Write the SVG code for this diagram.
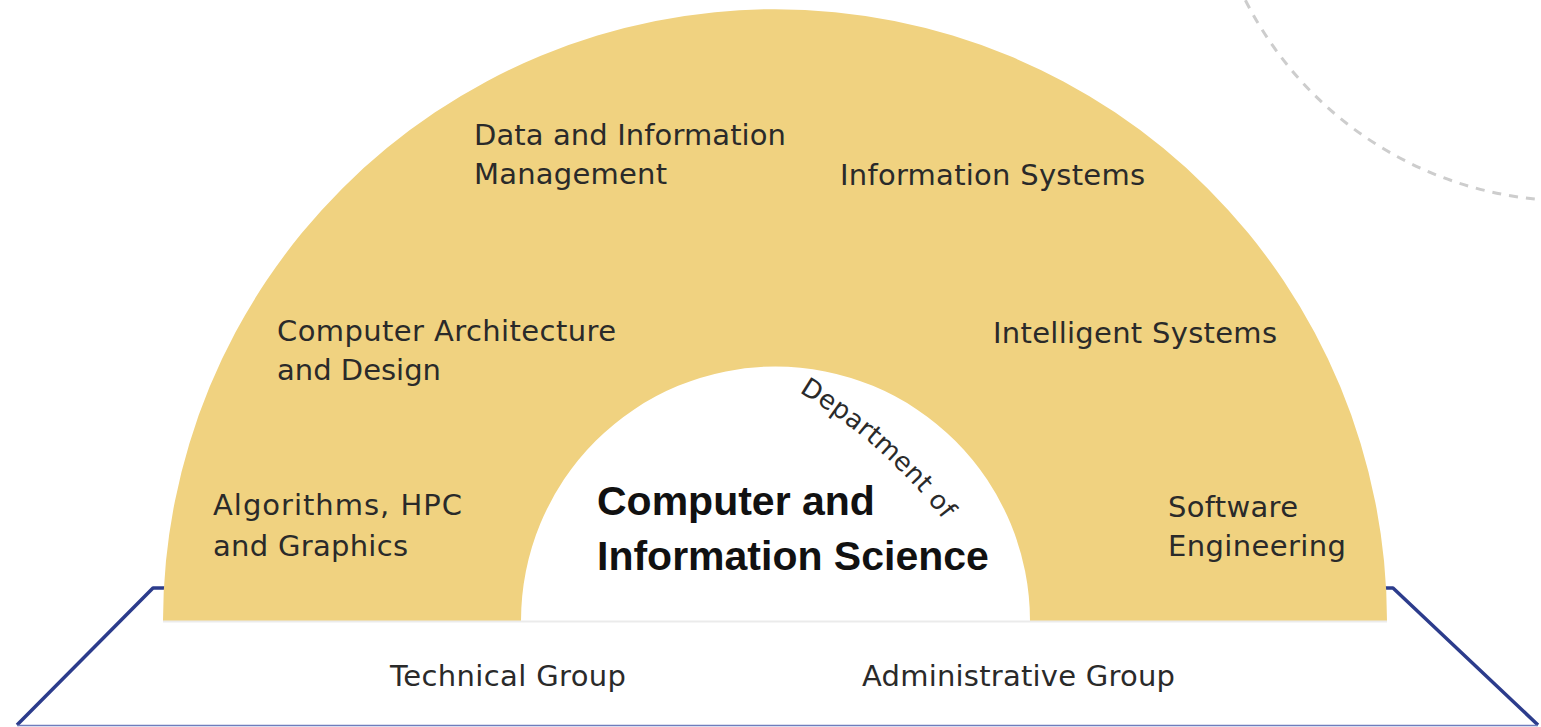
<svg xmlns="http://www.w3.org/2000/svg" width="1541" height="727" viewBox="0 0 1541 727">
  <style>
    .lbl { font-family: "DejaVu Sans", "Liberation Sans", sans-serif; font-size: 29px; fill: #2a2a2a; }
    .ctr { font-family: "Liberation Sans", "DejaVu Sans", sans-serif; font-size: 41px; font-weight: bold; fill: #111111; }
    .dept { font-family: "DejaVu Sans", "Liberation Sans", sans-serif; font-size: 26px; fill: #2a2a2a; }
    .navy { fill: none; stroke: #2c3c8c; stroke-width: 3.5; stroke-linejoin: round; }
  </style>
  <defs>
    <path id="deptPath" d="M 799 392 A 520 520 0 0 1 958 540"/>
  </defs>
  <rect width="1541" height="727" fill="#ffffff"/>
  <g id="dashed-circle">
    <circle cx="1572" cy="-165" r="366" fill="none" stroke="#cdcdcd" stroke-width="3" stroke-dasharray="9 8"/>
  </g>
  <g id="base-platform">
    <path class="navy" d="M 17 725 L 153 588 L 166 588"/>
    <path class="navy" d="M 1384 588 L 1393 588 L 1538 725"/>
    <line x1="17" y1="725.5" x2="1538" y2="725.5" stroke="#6f7dbd" stroke-width="1.5"/>
    <text class="lbl" x="390" y="686" textLength="236">Technical Group</text>
    <text class="lbl" x="862" y="686" textLength="313">Administrative Group</text>
  </g>
  <g id="ring">
    <path d="M 163 621 A 612 612 0 0 1 1387 621 L 1030 621 A 254.5 254.5 0 0 0 521 621 Z" fill="#f0d280"/>
    <line x1="163" y1="621.5" x2="1387" y2="621.5" stroke="#ebebeb" stroke-width="2"/>
  </g>
  <g id="node-data">
    <text class="lbl" x="474" y="145" textLength="312">Data and Information</text>
    <text class="lbl" x="474" y="184" textLength="193">Management</text>
  </g>
  <g id="node-infosys">
    <text class="lbl" x="840" y="185" textLength="305">Information Systems</text>
  </g>
  <g id="node-arch">
    <text class="lbl" x="277" y="341" textLength="339">Computer Architecture</text>
    <text class="lbl" x="277" y="380" textLength="164">and Design</text>
  </g>
  <g id="node-intel">
    <text class="lbl" x="993" y="343" textLength="284">Intelligent Systems</text>
  </g>
  <g id="node-algo">
    <text class="lbl" x="213" y="515" textLength="249">Algorithms, HPC</text>
    <text class="lbl" x="213" y="556" textLength="195">and Graphics</text>
  </g>
  <g id="node-soft">
    <text class="lbl" x="1168" y="517" textLength="130">Software</text>
    <text class="lbl" x="1168" y="556" textLength="178">Engineering</text>
  </g>
  <g id="node-center">
    <text class="ctr" x="597" y="515">Computer and</text>
    <text class="ctr" x="597" y="570">Information Science</text>
    <text class="dept"><textPath href="#deptPath" textLength="194">Department of</textPath></text>
  </g>
</svg>
